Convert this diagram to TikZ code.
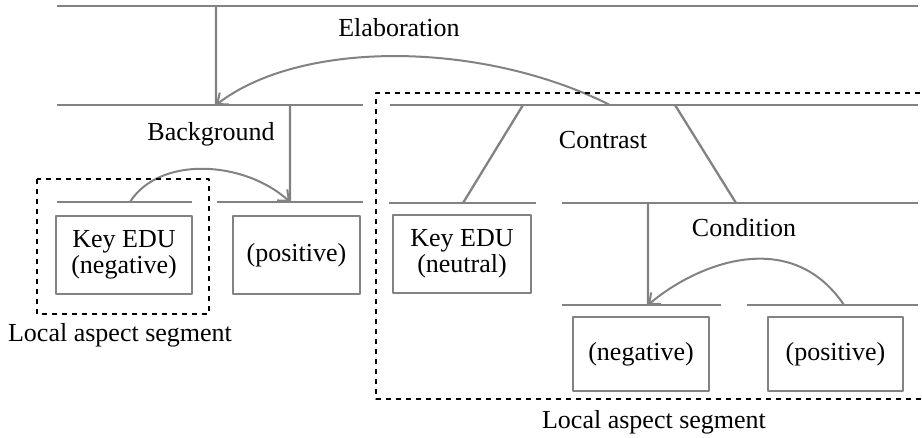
\documentclass[tikz,border=0pt]{standalone}
\usepackage{fontspec}
\setmainfont{Liberation Serif}
\usetikzlibrary{arrows.meta}
\definecolor{linegray}{RGB}{130,130,130}
\tikzset{
  span/.style={draw=linegray, line width=2.3pt},
  edu/.style={draw=linegray, line width=2.3pt, align=center, inner sep=0pt, minimum height=78pt},
  rel/.style={draw=linegray, line width=2pt, -{Straight Barb[length=9pt,width=15pt]}},
  seg/.style={draw=black, line width=2.2pt, dash pattern=on 5pt off 5pt},
}
\begin{document}
\begin{tikzpicture}[x=1pt, y=-1pt, font=\fontsize{26}{26}\selectfont, line join=round]
	\useasboundingbox (0,0) rectangle (922,438);
	\draw[span] (57,6) -- (918,6);
	\draw[span] (57,105) -- (363,105) (390,105) -- (918,105);
	\draw[span] (57,202) -- (192,202) (217,202) -- (363,202);
	\draw[span] (389,203) -- (536,203) (562,203) -- (918,203);
	\draw[span] (562,305) -- (721,305) (747,305) -- (918,305);
	\coordinate (top) at (216,6);
	\coordinate (bg) at (216,105);
	\coordinate (ct) at (610,105);
	\coordinate (bgv) at (290,105);
	\coordinate (pos1) at (290,202);
	\coordinate (key1) at (130,202);
	\coordinate (ctl) at (523,105); \coordinate (ctr) at (675,105);
	\coordinate (key2) at (463,203); \coordinate (cond) at (736,203);
	\coordinate (condv) at (648,203);
	\coordinate (neg) at (648,305); \coordinate (pos2) at (844,305);
	\draw[span] (top) -- (bg) (bgv) -- (pos1) (ctl) -- (key2) (ctr) -- (cond) (condv) -- (neg);
	\draw[rel] (ct) .. controls (480,40) and (300,40) .. (bg);
	\draw[rel] (key1) .. controls (160,155) and (245,161) .. (pos1);
	\draw[rel] (pos2) .. controls (790,225) and (695,265) .. (neg);
	\node[edu, minimum width=136pt] (keyneg) at (124,255) {Key EDU\\(negative)};
	\node[edu, minimum width=127pt] (posa) at (296.5,255) {(positive)};
	\node[edu, minimum width=138pt] (keyneu) at (462,254) {Key EDU\\(neutral)};
	\node[edu, minimum width=136pt, minimum height=74pt] (negb) at (641,354) {(negative)};
	\node[edu, minimum width=135pt, minimum height=74pt] (posb) at (835.5,354) {(positive)};
	\node (elab) at (399,28) {Elaboration};
	\node (back) at (211,134) {Background};
	\node (contr) at (603,140) {Contrast};
	\node (condl) at (744,228) {Condition};
	\draw[seg] (37,179) rectangle (209,314);
	\draw[seg] (930,93) -- (376,93) -- (376,399) -- (930,399);
	\node (seg1) at (120,335) {Local aspect segment};
	\node (seg2) at (654,422) {Local aspect segment};
\end{tikzpicture}
\end{document}
